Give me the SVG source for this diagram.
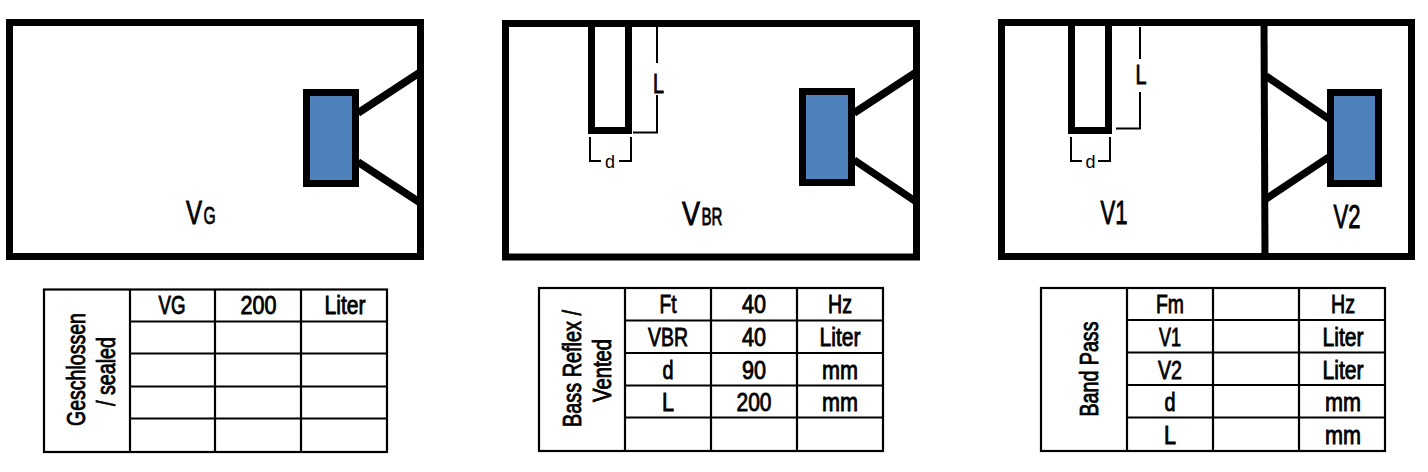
<svg xmlns="http://www.w3.org/2000/svg" width="1428" height="472" viewBox="0 0 1428 472">
<style>
text{font-family:"Liberation Sans",Arial,sans-serif;fill:#000;text-anchor:middle}
.wall{fill:none;stroke:#000;stroke-width:7}
.cone{fill:none;stroke:#000;stroke-width:7.500}
.drv{fill:#4f81bd;stroke:#000;stroke-width:7}
.dim{fill:none;stroke:#000;stroke-width:2}
.grid{fill:none;stroke:#000;stroke-width:2.200}
.t{font-size:25px;stroke:#000;stroke-width:.85}
.dimL{font-size:27px;stroke:#000;stroke-width:.9}
.big{font-size:33px;stroke:#000;stroke-width:.9}
.sub{font-size:23px;stroke:#000;stroke-width:.8}
.dl{font-size:18px}
</style>
<rect width="1428" height="472" fill="#fff"/>
<g id="cabinet-sealed">
<rect class="wall" x="9.500" y="22.500" width="411" height="234"/>
<rect class="drv" x="306.500" y="92.500" width="49" height="91"/>
<path class="cone" d="M358 113L419 73M358 162L419 202"/>
<text class="big" transform="translate(194 224) scale(.73 1)">V</text>
<text class="sub" transform="translate(209.500 224) scale(.68 1)">G</text>
</g>
<g id="cabinet-vented">
<rect class="wall" x="505.500" y="23.500" width="411" height="233.500"/>
<path class="wall" d="M591.500 20V130.500H628.500V20"/>
<rect class="drv" x="802.500" y="91.500" width="49" height="91"/>
<path class="cone" d="M854 113L915 73M854 160L915 201"/>
<path class="dim" d="M657 27V63M657 95V132.500H633M590 137V161H601M619 161H631V137"/>
<text class="dimL" x="658.500" y="93" textLength="11" lengthAdjust="spacingAndGlyphs">L</text>
<text class="dl" x="610" y="168">d</text>
<text class="big" x="691" y="225" textLength="18" lengthAdjust="spacingAndGlyphs">V</text>
<text class="sub" x="712" y="225" textLength="21" lengthAdjust="spacingAndGlyphs">BR</text>
</g>
<g id="cabinet-bandpass">
<rect class="wall" x="1001.500" y="22.500" width="410" height="234"/>
<path class="wall" d="M1264 20L1265 258"/>
<path class="wall" d="M1071.500 20V130.500H1108.500V20"/>
<rect class="drv" x="1330.500" y="92.500" width="48" height="91"/>
<path class="cone" d="M1266 76L1329 119M1266 199L1329 157"/>
<path class="dim" d="M1140 27V59M1140 92V128.500H1116M1071 137V161H1082M1098 161H1110V137"/>
<text class="dimL" x="1141" y="84" textLength="11" lengthAdjust="spacingAndGlyphs">L</text>
<text class="dl" x="1090.500" y="168">d</text>
<text class="big" x="1114" y="224" textLength="27" lengthAdjust="spacingAndGlyphs">V1</text>
<text class="big" x="1347" y="228" textLength="27" lengthAdjust="spacingAndGlyphs">V2</text>
</g>
<g id="table-sealed">
<rect class="grid" x="44" y="289.500" width="343" height="162.500"/>
<path class="grid" d="M130 289.500V452M215 289.500V452M301 289.500V452M130 321.500H387M130 353.500H387M130 386.500H387M130 418.500H387"/>
<text class="t" x="172" y="314" textLength="27" lengthAdjust="spacingAndGlyphs">VG</text>
<text class="t" x="258.500" y="314" textLength="36" lengthAdjust="spacingAndGlyphs">200</text>
<text class="t" x="345" y="314" textLength="41" lengthAdjust="spacingAndGlyphs">Liter</text>
<text class="t" transform="translate(85 369.500) rotate(-90)" textLength="113" lengthAdjust="spacingAndGlyphs">Geschlossen</text>
<text class="t" transform="translate(115 371.500) rotate(-90)" textLength="69" lengthAdjust="spacingAndGlyphs">/ sealed</text>
</g>
<g id="table-vented">
<rect class="grid" x="539" y="288" width="344" height="163"/>
<path class="grid" d="M625 288V451M711 288V451M797 288V451M625 320.500H883M625 353H883M625 385.500H883M625 417.500H883"/>
<text class="t" x="668" y="313" textLength="17" lengthAdjust="spacingAndGlyphs">Ft</text>
<text class="t" x="754" y="313" textLength="24" lengthAdjust="spacingAndGlyphs">40</text>
<text class="t" x="840" y="313" textLength="24" lengthAdjust="spacingAndGlyphs">Hz</text>
<text class="t" x="668" y="346" textLength="40" lengthAdjust="spacingAndGlyphs">VBR</text>
<text class="t" x="754" y="346" textLength="24" lengthAdjust="spacingAndGlyphs">40</text>
<text class="t" x="840" y="346" textLength="41" lengthAdjust="spacingAndGlyphs">Liter</text>
<text class="t" x="668" y="379" textLength="11" lengthAdjust="spacingAndGlyphs">d</text>
<text class="t" x="754" y="379" textLength="24" lengthAdjust="spacingAndGlyphs">90</text>
<text class="t" x="840" y="379" textLength="36" lengthAdjust="spacingAndGlyphs">mm</text>
<text class="t" x="668" y="411" textLength="12" lengthAdjust="spacingAndGlyphs">L</text>
<text class="t" x="754" y="411" textLength="35" lengthAdjust="spacingAndGlyphs">200</text>
<text class="t" x="840" y="411" textLength="36" lengthAdjust="spacingAndGlyphs">mm</text>
<text class="t" transform="translate(581 368.500) rotate(-90)" textLength="117" lengthAdjust="spacingAndGlyphs">Bass Reflex /</text>
<text class="t" transform="translate(611 370.500) rotate(-90)" textLength="63" lengthAdjust="spacingAndGlyphs">Vented</text>
</g>
<g id="table-bandpass">
<rect class="grid" x="1041" y="288" width="344" height="163"/>
<path class="grid" d="M1127 288V451M1213 288V451M1299 288V451M1127 320H1385M1127 352.500H1385M1127 385H1385M1127 417.500H1385"/>
<text class="t" x="1170" y="313" textLength="28" lengthAdjust="spacingAndGlyphs">Fm</text>
<text class="t" x="1343" y="313" textLength="24" lengthAdjust="spacingAndGlyphs">Hz</text>
<text class="t" x="1170" y="346" textLength="22" lengthAdjust="spacingAndGlyphs">V1</text>
<text class="t" x="1343" y="346" textLength="41" lengthAdjust="spacingAndGlyphs">Liter</text>
<text class="t" x="1170" y="379" textLength="24" lengthAdjust="spacingAndGlyphs">V2</text>
<text class="t" x="1343" y="379" textLength="41" lengthAdjust="spacingAndGlyphs">Liter</text>
<text class="t" x="1170" y="411" textLength="11" lengthAdjust="spacingAndGlyphs">d</text>
<text class="t" x="1343" y="411" textLength="36" lengthAdjust="spacingAndGlyphs">mm</text>
<text class="t" x="1170" y="443.500" textLength="12" lengthAdjust="spacingAndGlyphs">L</text>
<text class="t" x="1343" y="443.500" textLength="36" lengthAdjust="spacingAndGlyphs">mm</text>
<text class="t" transform="translate(1098 369) rotate(-90)" textLength="95" lengthAdjust="spacingAndGlyphs">Band Pass</text>
</g>
</svg>
